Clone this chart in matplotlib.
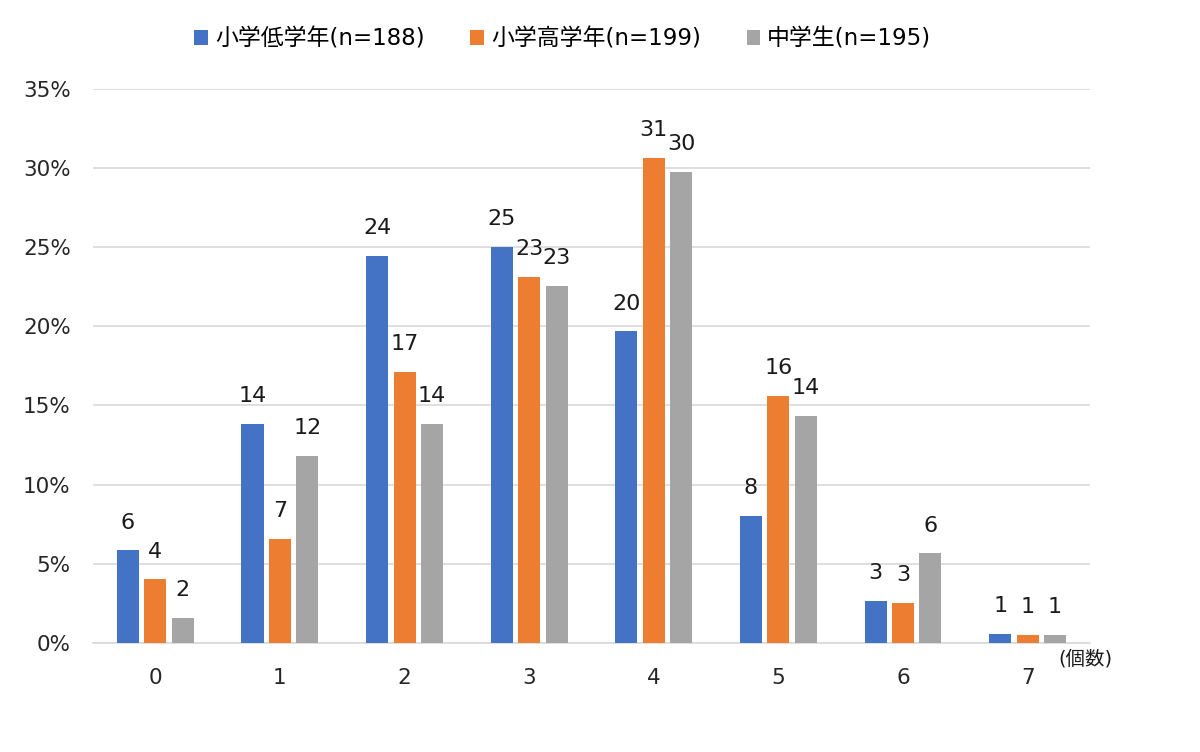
"""Bar chart: distribution of counts by school grade group (percent)."""
import numpy as np
import matplotlib
matplotlib.use("Agg")
import matplotlib.pyplot as plt
from matplotlib.ticker import FuncFormatter

plt.rcParams["font.family"] = ["DejaVu Sans", "Noto Sans CJK JP"]

categories = ["0", "1", "2", "3", "4", "5", "6", "7"]
series_names = ["小学低学年(n=188)", "小学高学年(n=199)", "中学生(n=195)"]

# percent values
low_grade = [5.85, 13.83, 24.45, 25.0, 19.67, 8.02, 2.67, 0.57]
high_grade = [4.02, 6.57, 17.12, 23.1, 30.64, 15.6, 2.51, 0.5]
junior_high = [1.56, 11.81, 13.83, 22.57, 29.75, 14.34, 5.66, 0.5]

# printed data labels
low_labels = [6, 14, 24, 25, 20, 8, 3, 1]
high_labels = [4, 7, 17, 23, 31, 16, 3, 1]
junior_labels = [2, 12, 14, 23, 30, 14, 6, 1]

colors = ["#4472C4", "#ED7D31", "#A5A5A5"]

fig = plt.figure(figsize=(12, 7.52), dpi=100)
ax = fig.add_axes([0.0775, 0.145, 0.8308, 0.737])

x = np.arange(len(categories))
width = 0.177
pitch = 0.22
all_values = [low_grade, high_grade, junior_high]
all_labels = [low_labels, high_labels, junior_labels]

for i, (vals, labs, name, col) in enumerate(zip(all_values, all_labels, series_names, colors)):
    pos = x + (i - 1) * pitch
    ax.bar(pos, vals, width=width, color=col, label=name, zorder=3)
    for px, v, lab in zip(pos, vals, labs):
        ax.annotate(str(lab), (px, v), xytext=(0, 20), textcoords="offset points",
                    ha="center", va="center", fontsize=16, color="#1a1a1a")

ax.set_xlim(-0.5, 7.5)
ax.set_ylim(0, 35)
ax.set_yticks(np.arange(0, 36, 5))
ax.yaxis.set_major_formatter(FuncFormatter(lambda v, _: f"{v:.0f}%"))
ax.set_xticks(x)
ax.set_xticklabels(categories)
ax.tick_params(axis="both", length=0, labelsize=15.5, colors="#262626")
ax.tick_params(axis="x", pad=18)
ax.tick_params(axis="y", pad=16)
ax.grid(axis="y", color="#D9D9D9", linewidth=1.2, zorder=0)

for s in ["top", "right", "left"]:
    ax.spines[s].set_visible(False)
ax.spines["bottom"].set_color("#D9D9D9")
ax.spines["bottom"].set_linewidth(1.2)

ax.text(0.968, -0.012, "(個数)", transform=ax.transAxes, ha="left", va="top",
        fontsize=14, color="#1a1a1a")

fig.legend(loc="center", bbox_to_anchor=(0.469, 0.948), ncol=3, frameon=False,
           fontsize=16.5, handlelength=0.6, handleheight=0.6, handletextpad=0.3,
           columnspacing=2.0)

fig.savefig("out.png", dpi=100)
